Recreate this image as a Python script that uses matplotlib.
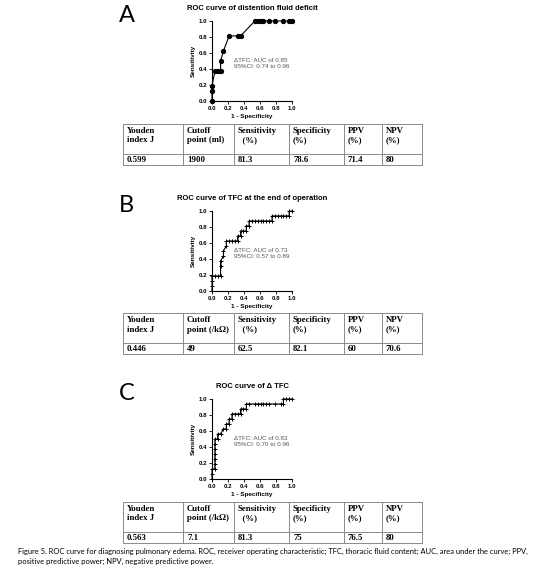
import matplotlib
matplotlib.use("Agg")
import matplotlib.pyplot as plt

# ROC points (1 - specificity, sensitivity)
fpr_a = [0.0, 0.0, 0.0, 0.036, 0.071, 0.107, 0.107, 0.143, 0.214, 0.321, 0.357,
         0.536, 0.571, 0.607, 0.643, 0.714, 0.786, 0.893, 0.964, 1.0]
tpr_a = [0.0, 0.125, 0.188, 0.375, 0.375, 0.375, 0.5, 0.625, 0.813, 0.813, 0.813,
         1.0, 1.0, 1.0, 1.0, 1.0, 1.0, 1.0, 1.0, 1.0]

fpr_b = [0.0, 0.0, 0.0, 0.0, 0.036, 0.071, 0.107, 0.107, 0.107, 0.143, 0.143,
         0.179, 0.179, 0.214, 0.25, 0.286, 0.321, 0.321, 0.357, 0.357, 0.393,
         0.429, 0.429, 0.464, 0.464, 0.5, 0.536, 0.571, 0.607, 0.643, 0.679,
         0.714, 0.75, 0.75, 0.786, 0.821, 0.857, 0.893, 0.929, 0.964, 0.964, 1.0]
tpr_b = [0.0, 0.063, 0.125, 0.188, 0.188, 0.188, 0.188, 0.313, 0.375, 0.438, 0.5,
         0.563, 0.625, 0.625, 0.625, 0.625, 0.625, 0.688, 0.688, 0.75, 0.75,
         0.75, 0.813, 0.813, 0.875, 0.875, 0.875, 0.875, 0.875, 0.875, 0.875,
         0.875, 0.875, 0.938, 0.938, 0.938, 0.938, 0.938, 0.938, 0.938, 1.0, 1.0]

fpr_c = [0.0, 0.0, 0.0, 0.036, 0.036, 0.036, 0.036, 0.036, 0.036, 0.036, 0.071,
         0.071, 0.107, 0.143, 0.179, 0.179, 0.214, 0.214, 0.25, 0.25, 0.286,
         0.321, 0.357, 0.357, 0.393, 0.429, 0.429, 0.464, 0.536, 0.571, 0.607,
         0.643, 0.679, 0.714, 0.786, 0.857, 0.893, 0.893, 0.929, 0.964, 1.0]
tpr_c = [0.0, 0.063, 0.125, 0.125, 0.188, 0.25, 0.313, 0.375, 0.438, 0.5, 0.5,
         0.563, 0.563, 0.625, 0.625, 0.688, 0.688, 0.75, 0.75, 0.813, 0.813,
         0.813, 0.813, 0.875, 0.875, 0.875, 0.938, 0.938, 0.938, 0.938, 0.938,
         0.938, 0.938, 0.938, 0.938, 0.938, 0.938, 1.0, 1.0, 1.0, 1.0]

letters = ["A", "B", "C"]
titles = ["ROC curve of distention fluid deficit",
          "ROC curve of TFC at the end of operation",
          "ROC curve of \u0394 TFC"]
auc_text = ["\u0394TFC: AUC of 0.85\n95%CI: 0.74 to 0.96",
            "\u0394TFC: AUC of 0.73\n95%CI: 0.57 to 0.89",
            "\u0394TFC: AUC of 0.83\n95%CI: 0.70 to 0.96"]
markers = ["o", "+", "+"]

# table contents
youden = ["0.599", "0.446", "0.563"]
cutoff_unit = ["point (ml)", "point (/k\u03a9)", "point (/k\u03a9)"]
cutoff = ["1900", "49", "7.1"]
sens = ["81.3", "62.5", "81.3"]
spec = ["78.6", "82.1", "75"]
ppv = ["71.4", "60", "76.5"]
npv = ["80", "70.6", "80"]

caption = ("Figure 5. ROC curve for diagnosing pulmonary edema. ROC, receiver operating characteristic; "
           "TFC, thoracic fluid content; AUC, area under the curve; PPV,\n"
           "positive predictive power; NPV, negative predictive power.")

W, H = 548, 574
fig = plt.figure(figsize=(W / 100, H / 100), dpi=100)
fig.patch.set_facecolor("white")

ov = fig.add_axes([0, 0, 1, 1])
ov.set_xlim(0, W)
ov.set_ylim(H, 0)
ov.axis("off")

sans = "Liberation Sans"
serif = "Liberation Serif"

col_x = [123, 183, 234, 289, 344, 382, 422]
panel_top = [21, 211, 399]
table_top = [124, 313, 502]
curves = [(fpr_a, tpr_a), (fpr_b, tpr_b), (fpr_c, tpr_c)]

for i in range(3):
    top = panel_top[i]
    ax = fig.add_axes([212 / W, 1 - (top + 80) / H, 80 / W, 80 / H])
    fpr, tpr = curves[i]
    if markers[i] == "o":
        ax.plot(fpr, tpr, color="black", lw=0.8, marker="o", ms=2.8, clip_on=False)
    else:
        ax.plot(fpr, tpr, color="black", lw=0.8, marker="+", ms=3.4, mew=0.7, clip_on=False)
    ax.set_xlim(0, 1)
    ax.set_ylim(0, 1)
    ax.set_xticks([0, 0.2, 0.4, 0.6, 0.8, 1.0])
    ax.set_yticks([0, 0.2, 0.4, 0.6, 0.8, 1.0])
    ax.set_xticklabels(["0.0", "0.2", "0.4", "0.6", "0.8", "1.0"])
    ax.set_yticklabels(["0.0", "0.2", "0.4", "0.6", "0.8", "1.0"])
    for lab in ax.get_xticklabels() + ax.get_yticklabels():
        lab.set_fontfamily(sans)
        lab.set_fontweight("bold")
        lab.set_fontsize(4.4)
    ax.tick_params(length=2, width=0.6, pad=1.5, direction="out")
    ax.spines["top"].set_visible(False)
    ax.spines["right"].set_visible(False)
    ax.spines["left"].set_linewidth(0.8)
    ax.spines["bottom"].set_linewidth(0.8)
    ax.set_facecolor("none")
    ax.set_xlabel("1 - Specificity", fontsize=4.6, fontweight="bold", family=sans, labelpad=2)
    ax.set_ylabel("Sensitivity", fontsize=4.6, fontweight="bold", family=sans, labelpad=2)
    ax.text(0.27, 0.47, auc_text[i], fontsize=4.5, color="#555555", family=sans,
            va="center", ha="left", linespacing=1.2)

    # panel letter and title
    ov.text(119, top - 5, letters[i], fontsize=17, family="Lato", va="center", ha="left")
    ov.text(252, top - 13, titles[i], fontsize=5.5, fontweight="bold", family=sans,
            va="center", ha="center")

    # table
    t0 = table_top[i]
    t1 = t0 + 30
    t2 = t1 + 11
    for y in [t0, t1, t2]:
        ov.plot([col_x[0], col_x[-1]], [y, y], color="#8a8a8a", lw=0.7)
    for x in col_x:
        ov.plot([x, x], [t0, t2], color="#8a8a8a", lw=0.7)
    header = ["Youden\nindex J", "Cutoff\n" + cutoff_unit[i], "Sensitivity\n  (%)",
              "Specificity\n(%)", "PPV\n(%)", "NPV\n(%)"]
    row = [youden[i], cutoff[i], sens[i], spec[i], ppv[i], npv[i]]
    for j in range(6):
        ov.text(col_x[j] + 4, t0 + 3, header[j], fontsize=6.3, fontweight="bold",
                family=serif, va="top", ha="left", linespacing=1.25)
        ov.text(col_x[j] + 4, (t1 + t2) / 2 + 0.5, row[j], fontsize=6.3, fontweight="bold",
                family=serif, va="center", ha="left")

ov.text(18, 548, caption, fontsize=5.45, family="Lato", va="top", ha="left", linespacing=1.45)

fig.savefig("out.png", dpi=100, facecolor="white")
